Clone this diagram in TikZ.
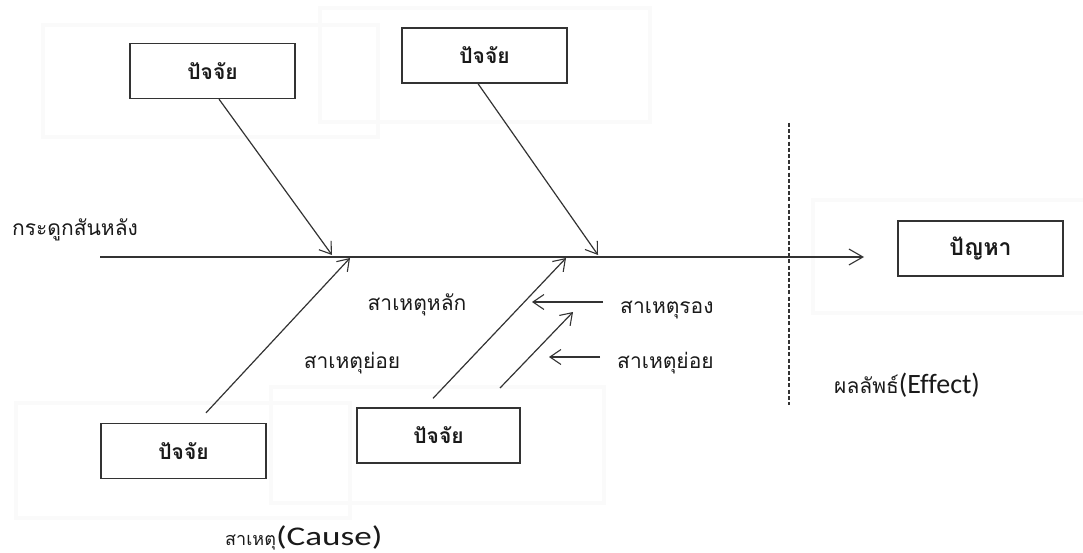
\documentclass[tikz,border=0pt]{standalone}
\usepackage{fontspec}
\setmainfont[Script=Thai]{Loma}
\newfontfamily\latinf[Ligatures=NoCommon]{Carlito}
\newfontfamily\latinw[FakeStretch=1.3]{Carlito}
\usetikzlibrary{arrows.meta}
\definecolor{ln}{HTML}{333333}
\definecolor{tx}{HTML}{1A1A1A}
\definecolor{ghost}{HTML}{FAFAFA}
\tikzset{
  box/.style={draw=ln, line width=1.3pt, minimum width=165pt, minimum height=55pt, inner sep=0pt, font=\fontsize{21}{24}\selectfont\bfseries, text=tx},
  lbl/.style={inner sep=0pt, font=\fontsize{21}{24}\selectfont, text=tx},
  arr/.style={draw=ln, line width=1.2pt, -{Straight Barb[length=11pt,width=15pt,line width=1.1pt]}},
  shadowbox/.style={draw=ghost, line width=4pt}
}
\begin{document}
\begin{tikzpicture}[x=1pt,y=-1pt]
\useasboundingbox (0,0) rectangle (1083,553);
% faint background frames
\draw[shadowbox] (43,25) rectangle (378,137);
\draw[shadowbox] (320,8) rectangle (650,122);
\draw[shadowbox] (813,200) rectangle (1090,313);
\draw[shadowbox] (16,403) rectangle (350,518);
\draw[shadowbox] (271,387) rectangle (604,503);
% boxes
\node[box] (b1) at (212.5,71) {ปัจจัย};
\node[box] (b2) at (484.5,55.5) {ปัจจัย};
\node[box] (b3) at (183.5,451) {ปัจจัย};
\node[box, minimum width=163pt] (b4) at (438.5,435.5) {ปัจจัย};
\node[box, font=\fontsize{23}{26}\selectfont\bfseries] (b5) at (980.5,248.5) {ปัญหา};
% spine
\coordinate (s0) at (100,257);
\coordinate (s1) at (864,257);
\coordinate (j1) at (332,255);
\coordinate (j2) at (350,258);
\coordinate (j3) at (598,255);
\coordinate (j4) at (566,258);
\draw[arr, -{Straight Barb[length=14pt,width=16pt,line width=1.1pt]}] (s0) -- (s1);
% main bones
\draw[arr] ([xshift=6.5pt]b1.south) -- (j1);
\draw[arr] ([xshift=-6.5pt]b2.south) -- (j3);
\draw[arr] ([shift={(22.5,-10)}]b3.north) -- (j2);
\draw[arr] ([shift={(-5.5,-9)}]b4.north) -- (j4);
% sub bone
\coordinate (c0) at (500,388);
\coordinate (c1) at (573,312);
\draw[arr] (c0) -- (c1);
% small cause arrows
\coordinate (h1a) at (603,302);
\coordinate (h1b) at (532,302);
\coordinate (h2a) at (600,357);
\coordinate (h2b) at (549,357);
\draw[arr] (h1a) -- (h1b);
\draw[arr] (h2a) -- (h2b);
% dashed divider
\coordinate (d0) at (789,123);
\coordinate (d1) at (789,405);
\draw[draw=ln, line width=1.1pt, dash pattern=on 4pt off 2.2pt] (d0) -- (d1);
% labels
\node[lbl, anchor=west] (spl) at (12,230) {กระดูกสันหลัง};
\node[lbl] (mainc) at (417,305) {สาเหตุหลัก};
\node[lbl] (subl) at (352,363) {สาเหตุย่อย};
\node[lbl, anchor=west] (secc) at (620,310) {สาเหตุรอง};
\node[lbl, anchor=west] (subr) at (617,363) {สาเหตุย่อย};
\node[lbl, anchor=west] (eff) at (834,385) {ผลลัพธ์{\latinf\fontsize{28}{30}\selectfont(Effect)}};
\node[lbl, anchor=west] (cause) at (225,538) {\fontsize{18}{22}\selectfont สาเหตุ{\latinw\fontsize{27}{29}\selectfont(Cause)}};
\end{tikzpicture}
\end{document}
